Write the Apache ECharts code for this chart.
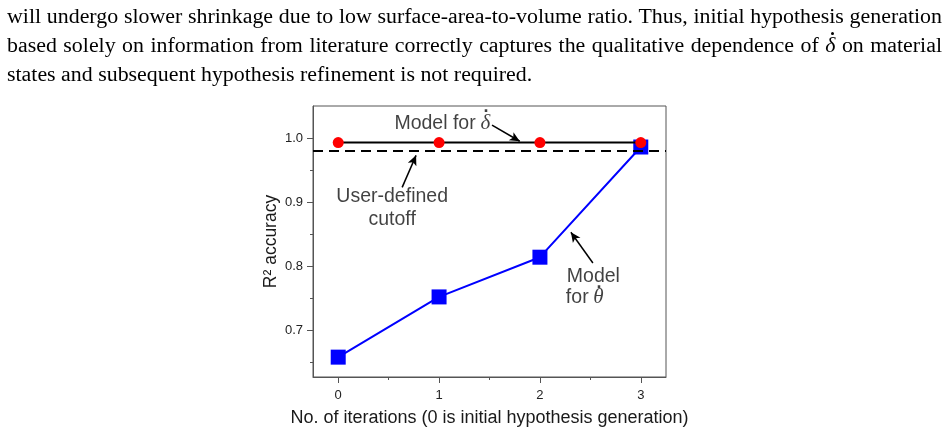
<!DOCTYPE html>
<html>
<head>
<meta charset="utf-8">
<script src="https://cdn.jsdelivr.net/npm/echarts@6/dist/echarts.min.js"></script>
<style>
  html, body { margin: 0; padding: 0; background: #fff; }
  #page { position: relative; width: 949px; height: 436px; overflow: hidden; }
  #chart { position: absolute; left: 0; top: 0; width: 949px; height: 436px; }
  .para { position: absolute; left: 7px; top: 1px; width: 935px; font-family: "Liberation Serif", "Times New Roman", serif;
          font-size: 21.9px; line-height: 29px; color: #000; z-index: 2; }
  .para div { text-align: justify; text-align-last: justify; white-space: nowrap; overflow: visible; }
  .para div.last { text-align-last: left; }
  .para .dotted { position: relative; font-style: italic; }
  .para .dotted::after { content: ""; position: absolute; left: 6px; top: 0px; width: 3px; height: 3px;
                         border-radius: 50%; background: #000; }
</style>
</head>
<body>
<div id="page">
  <div class="para">
    <div class="fit">will undergo slower shrinkage due to low surface-area-to-volume ratio. Thus, initial hypothesis generation</div>
    <div class="fit">based solely on information from literature correctly captures the qualitative dependence of <span class="dotted">δ</span> on material</div>
    <div class="last">states and subsequent hypothesis refinement is not required.</div>
  </div>
  <div id="chart"></div>
</div>
<script>
// values
const iterations = [0, 1, 2, 3];
const deltaR2 = [0.993, 0.993, 0.993, 0.993];
const thetaR2 = [0.658, 0.752, 0.814, 0.986];
const cutoffR2 = 0.98;

const xTicks = [0, 1, 2, 3];
const xMinorTicks = [0.5, 1.5, 2.5];
const yTicks = [0.7, 0.8, 0.9, 1.0];
const yMinorTicks = [0.65, 0.75, 0.85, 0.95];

// annotation texts and arrows, in data units
const noteTexts = ["Model for", "{i|δ}", "{d|·}", "User-defined", "cutoff", "Model", "for", "{i|θ}", "{d|·}"];
const noteX = [0.960, 1.460, 1.470, 0.535, 0.535, 2.530, 2.370, 2.580, 2.590];
const noteY = [1.023, 1.0225, 1.0400, 0.908, 0.873, 0.783, 0.7508, 0.7505, 0.7660];
const arrowFrom = [[1.525, 1.0203], [0.634, 0.923], [2.525, 0.805]];
const arrowTo = [[1.80, 0.995], [0.772, 0.973], [2.307, 0.853]];

// squeeze justified lines that would overflow their box
document.querySelectorAll(".para .fit").forEach((el) => {
  let ls = 0;
  while (el.scrollWidth > el.clientWidth && ls > -1) {
    ls -= 0.05;
    el.style.letterSpacing = ls + "px";
  }
});

const font = "'Liberation Sans', Arial, sans-serif";
const axisColor = "#555";

const chart = echarts.init(document.getElementById("chart"));

function minorAxis(type, minorValues) {
  return {
    type: "value",
    min: type === "x" ? -0.25 : 0.627,
    max: type === "x" ? 3.25 : 1.05,
    position: type === "x" ? "bottom" : "left",
    axisLine: { show: false, onZero: false },
    splitLine: { show: false },
    axisLabel: { show: false },
    axisTick: { show: true, inside: false, length: 3, customValues: minorValues, lineStyle: { color: axisColor, width: 1 } }
  };
}

chart.setOption({
  animation: false,
  grid: { left: 313, right: 283, top: 106, bottom: 59, show: true, borderColor: axisColor, borderWidth: 1, backgroundColor: "transparent" },
  xAxis: [
    {
      type: "value",
      min: -0.25,
      max: 3.25,
      name: "No. of iterations (0 is initial hypothesis generation)",
      nameLocation: "middle",
      nameGap: 32,
      nameTextStyle: { fontFamily: font, fontSize: 18, color: "#1a1a1a" },
      axisLine: { show: true, onZero: false, lineStyle: { color: axisColor, width: 1 } },
      axisTick: { show: true, length: 6, customValues: xTicks, lineStyle: { color: axisColor } },
      axisLabel: { customValues: xTicks, margin: 12, fontFamily: font, fontSize: 13, color: "#222" },
      splitLine: { show: false }
    },
    minorAxis("x", xMinorTicks)
  ],
  yAxis: [
    {
      type: "value",
      min: 0.627,
      max: 1.05,
      name: "R² accuracy",
      nameLocation: "middle",
      nameRotate: 90,
      nameGap: 33,
      nameTextStyle: { fontFamily: font, fontSize: 17.5, color: "#1a1a1a" },
      axisLine: { show: true, onZero: false, lineStyle: { color: axisColor, width: 1 } },
      axisTick: { show: true, length: 6, customValues: yTicks, lineStyle: { color: axisColor } },
      axisLabel: { customValues: yTicks, margin: 10, fontFamily: font, fontSize: 13, color: "#222",
                   formatter: (v) => v.toFixed(1) },
      splitLine: { show: false }
    },
    minorAxis("y", yMinorTicks)
  ],
  series: [
    {
      name: "theta",
      type: "line",
      data: iterations.map((x, i) => [x, thetaR2[i]]),
      symbol: "rect",
      symbolSize: 15,
      lineStyle: { color: "#0000ff", width: 2 },
      itemStyle: { color: "#0000ff" },
      z: 3,
      markLine: {
        silent: true,
        symbol: "none",
        label: { show: false },
        lineStyle: { color: "#000", width: 2, type: [10, 6] },
        data: [{ yAxis: cutoffR2 }]
      }
    },
    {
      name: "delta",
      type: "line",
      data: iterations.map((x, i) => [x, deltaR2[i]]),
      symbol: "circle",
      symbolSize: 11,
      lineStyle: { color: "#000", width: 2 },
      itemStyle: { color: "#ff0000" },
      z: 4
    },
    {
      name: "notes",
      type: "scatter",
      symbolSize: 0,
      data: noteX.map((x, i) => [x, noteY[i], noteTexts[i]]),
      label: {
        show: true,
        position: "inside",
        formatter: (p) => p.data[2],
        fontFamily: font,
        fontSize: 19.5,
        color: "#111",
        rich: {
          i: { fontFamily: "'Liberation Serif', serif", fontStyle: "italic", fontSize: 21, color: "#111" },
          d: { fontFamily: font, fontWeight: "bold", fontSize: 18, color: "#111" }
        }
      },
      z: 5,
      markLine: {
        silent: true,
        symbol: ["none", "arrow"],
        symbolSize: [7, 10],
        label: { show: false },
        lineStyle: { color: "#000", width: 1.5, type: "solid" },
        data: arrowFrom.map((a, i) => [{ coord: a }, { coord: arrowTo[i] }])
      }
    }
  ]
});
</script>
</body>
</html>
